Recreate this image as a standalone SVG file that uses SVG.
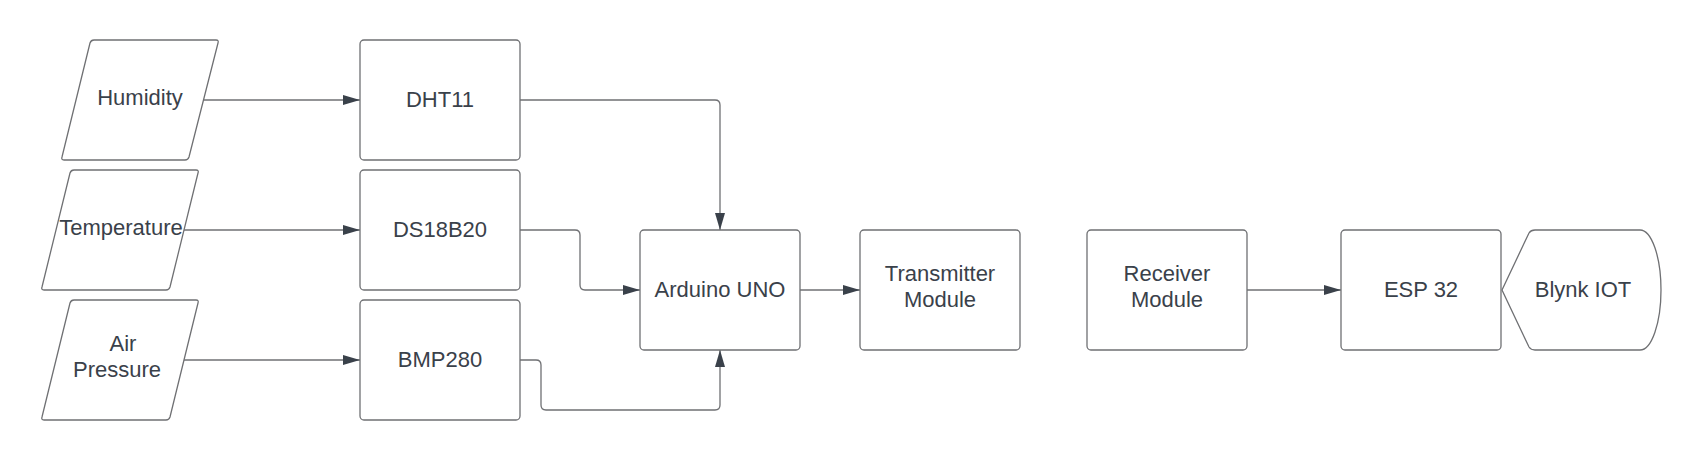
<svg xmlns="http://www.w3.org/2000/svg" width="1701" height="460" viewBox="0 0 1701 460">
<style>
.s{fill:#ffffff;stroke:#6f7073;stroke-width:1.3}
.c{fill:none;stroke:#6f7073;stroke-width:1.3}
.t{font-family:"Liberation Sans",Arial,sans-serif;font-size:22px;fill:#3a414a;text-anchor:middle}
</style>
<defs>
<marker id="ah" viewBox="0 0 17 10" refX="17" refY="5" markerWidth="17" markerHeight="10" markerUnits="userSpaceOnUse" orient="auto">
<path d="M0,0 L17,5 L0,10 Z" fill="#3a414a"/>
</marker>
</defs>
<rect width="1701" height="460" fill="#ffffff"/>
<g id="connectors">
<path class="c" d="M204,100 H360" marker-end="url(#ah)"/>
<path class="c" d="M184,230 H360" marker-end="url(#ah)"/>
<path class="c" d="M184,360 H360" marker-end="url(#ah)"/>
<path class="c" d="M520,100 H715 Q720,100 720,105 V230" marker-end="url(#ah)"/>
<path class="c" d="M520,230 H575 Q580,230 580,235 V285 Q580,290 585,290 H640" marker-end="url(#ah)"/>
<path class="c" d="M520,360 H536 Q541,360 541,365 V405 Q541,410 546,410 H715 Q720,410 720,405 V350" marker-end="url(#ah)"/>
<path class="c" d="M800,290 H860" marker-end="url(#ah)"/>
<path class="c" d="M1247,290 H1341" marker-end="url(#ah)"/>
</g>
<g id="humidity">
<path class="s" d="M94,40 H216 Q219,40 218,43 L189,157 Q188,160 185,160 H64 Q61,160 62,157 L90,43 Q91,40 94,40 Z"/>
<text class="t" x="140" y="104.5">Humidity</text>
</g>
<g id="temperature">
<path class="s" d="M74,170 H196 Q199,170 198,173 L170,287 Q169,290 166,290 H44 Q41,290 42,287 L70,173 Q71,170 74,170 Z"/>
<text class="t" x="121" y="234.5">Temperature</text>
</g>
<g id="airpressure">
<path class="s" d="M74,300 H196 Q199,300 198,303 L170,417 Q169,420 166,420 H44 Q41,420 42,417 L70,303 Q71,300 74,300 Z"/>
<text class="t" x="123" y="350.5">Air</text>
<text class="t" x="117" y="377">Pressure</text>
</g>
<g id="dht11">
<rect class="s" x="360" y="40" width="160" height="120" rx="4"/>
<text class="t" x="440" y="106.5">DHT11</text>
</g>
<g id="ds18b20">
<rect class="s" x="360" y="170" width="160" height="120" rx="4"/>
<text class="t" x="440" y="236.5">DS18B20</text>
</g>
<g id="bmp280">
<rect class="s" x="360" y="300" width="160" height="120" rx="4"/>
<text class="t" x="440" y="366.5">BMP280</text>
</g>
<g id="arduino">
<rect class="s" x="640" y="230" width="160" height="120" rx="4"/>
<text class="t" x="720" y="296.5">Arduino UNO</text>
</g>
<g id="transmitter">
<rect class="s" x="860" y="230" width="160" height="120" rx="4"/>
<text class="t" x="940" y="281">Transmitter</text>
<text class="t" x="940" y="307">Module</text>
</g>
<g id="receiver">
<rect class="s" x="1087" y="230" width="160" height="120" rx="4"/>
<text class="t" x="1167" y="281">Receiver</text>
<text class="t" x="1167" y="307">Module</text>
</g>
<g id="esp32">
<rect class="s" x="1341" y="230" width="160" height="120" rx="4"/>
<text class="t" x="1421" y="296.5">ESP 32</text>
</g>
<g id="blynk">
<path class="s" d="M1502,290 L1529,233 Q1531,230 1535,230 H1640 A21,60 0 0 1 1640,350 H1535 Q1531,350 1529,347 Z"/>
<text class="t" x="1583" y="296.5">Blynk IOT</text>
</g>
</svg>
